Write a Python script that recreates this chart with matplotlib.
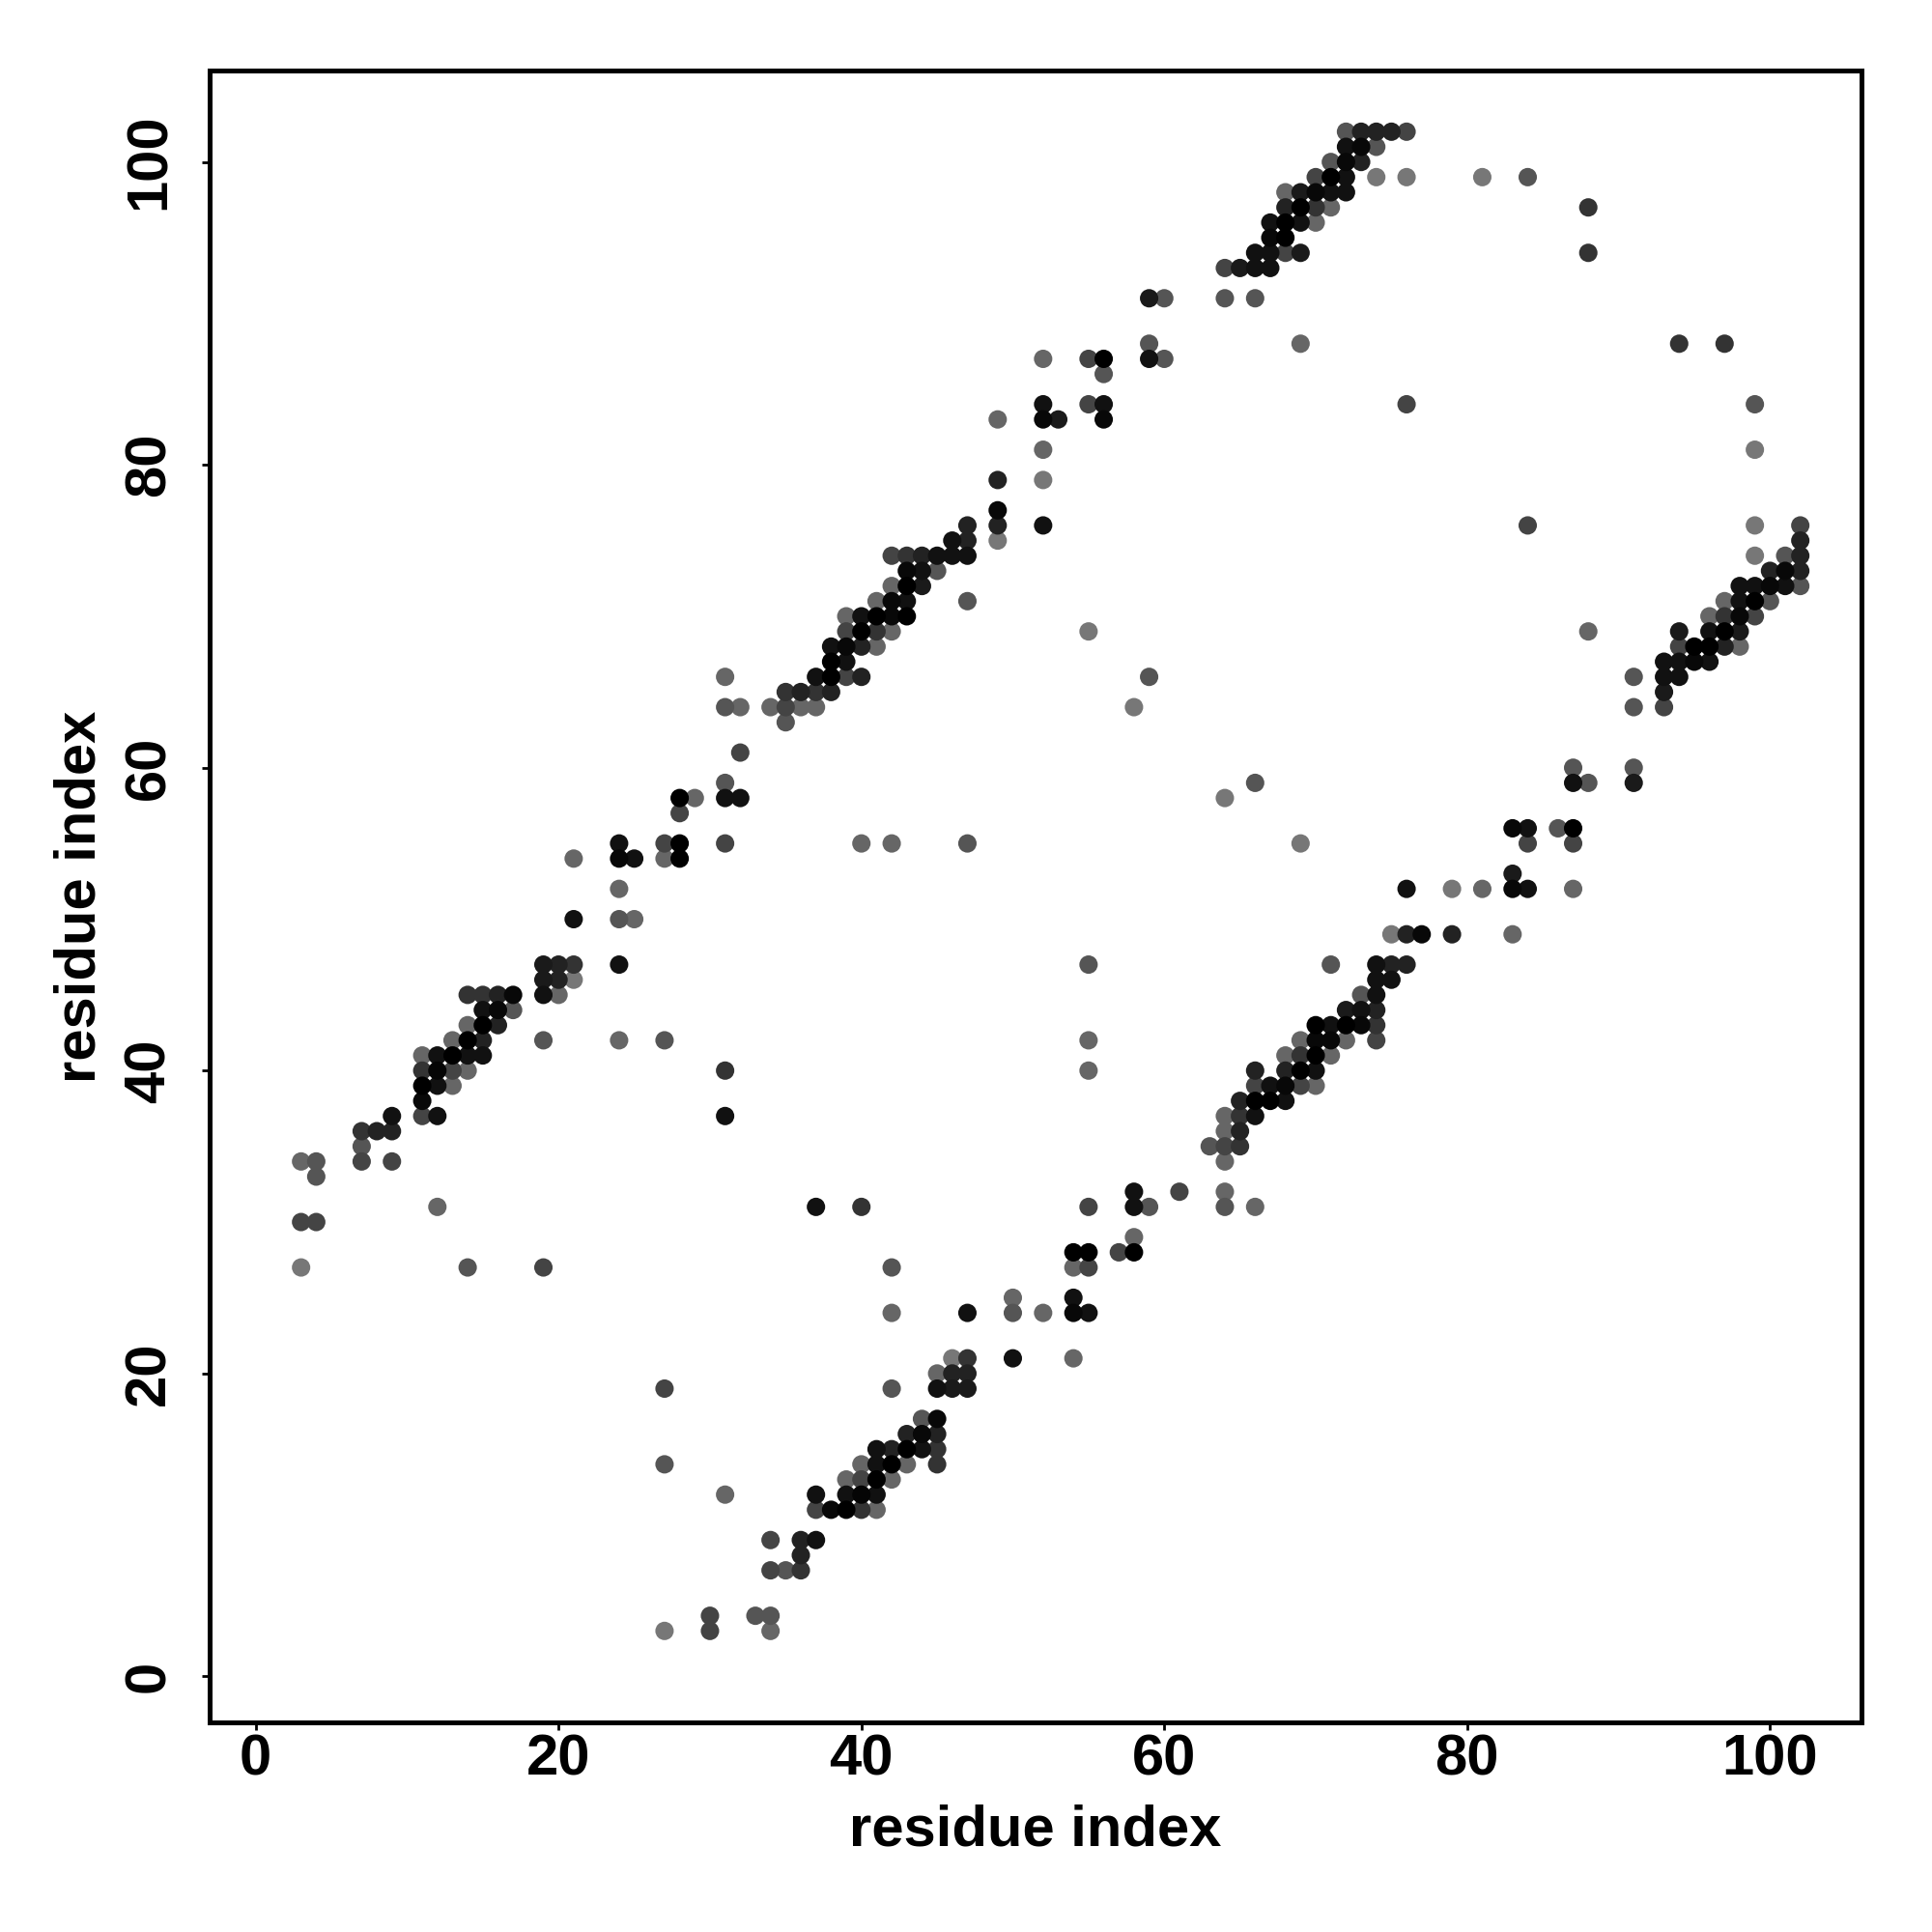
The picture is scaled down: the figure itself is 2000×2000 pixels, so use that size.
import matplotlib
matplotlib.use("Agg")
import matplotlib.pyplot as plt

# Contact map (upper triangle, i < j); the plot is symmetric, lower triangle mirrors it.
# grey level of each contact (0 = black, 255 = white)
contact_i = [
    3, 14, 19,
    3, 4,
    12,
    4,
    3, 4, 7, 9,
    7,
    7, 8, 9,
    9, 11, 12, 31,
    11,
    11, 12, 13,
    11, 12, 13, 14, 31,
    11, 12, 13, 14, 15,
    13, 14, 15, 19, 24, 27,
    14, 15, 16,
    15, 16, 17,
    14, 15, 16, 17, 19, 20,
    19, 20, 21,
    19, 20, 21, 24,
    21, 24, 25,
    24,
    21, 24, 25, 27, 28,
    24, 27, 28, 31, 40, 42, 47,
    28,
    28, 29, 31, 32,
    31,
    32,
    35,
    31, 32, 34, 35, 36, 37, 58,
    35, 36, 37, 38,
    31, 37, 38, 39, 40, 59,
    38, 39,
    38, 39, 40, 41,
    39, 40, 41, 42, 55,
    39, 40, 41, 42, 43,
    41, 42, 43, 47,
    42, 43, 44,
    43, 44, 45,
    42, 43, 44, 45, 46, 47,
    46, 47, 49,
    47, 49, 52,
    49,
    49, 52,
    52,
    49, 52, 53, 56,
    52, 55, 56, 76,
    56,
    52, 55, 56, 59, 60,
    59, 69,
    59, 60, 64, 66,
    64, 65, 66, 67,
    66, 67, 68, 69, 88,
    67, 68,
    67, 68, 69, 70,
    68, 69, 70, 71, 88,
    68, 69, 70, 71, 72,
    70, 71, 72, 74, 76, 81, 84,
    71, 72, 73,
    72, 73, 74,
    72, 73, 74, 75, 76,
]
contact_j = [
    27, 27, 27,
    30, 30,
    31,
    33,
    34, 34, 34, 34,
    35,
    36, 36, 36,
    37, 37, 37, 37,
    38,
    39, 39, 39,
    40, 40, 40, 40, 40,
    41, 41, 41, 41, 41,
    42, 42, 42, 42, 42, 42,
    43, 43, 43,
    44, 44, 44,
    45, 45, 45, 45, 45, 45,
    46, 46, 46,
    47, 47, 47, 47,
    50, 50, 50,
    52,
    54, 54, 54, 54, 54,
    55, 55, 55, 55, 55, 55, 55,
    57,
    58, 58, 58, 58,
    59,
    61,
    63,
    64, 64, 64, 64, 64, 64, 64,
    65, 65, 65, 65,
    66, 66, 66, 66, 66, 66,
    67, 67,
    68, 68, 68, 68,
    69, 69, 69, 69, 69,
    70, 70, 70, 70, 70,
    71, 71, 71, 71,
    72, 72, 72,
    73, 73, 73,
    74, 74, 74, 74, 74, 74,
    75, 75, 75,
    76, 76, 76,
    77,
    79, 79,
    81,
    83, 83, 83, 83,
    84, 84, 84, 84,
    86,
    87, 87, 87, 87, 87,
    88, 88,
    91, 91, 91, 91,
    93, 93, 93, 93,
    94, 94, 94, 94, 94,
    95, 95,
    96, 96, 96, 96,
    97, 97, 97, 97, 97,
    98, 98, 98, 98, 98,
    99, 99, 99, 99, 99, 99, 99,
    100, 100, 100,
    101, 101, 101,
    102, 102, 102, 102, 102,
]
contact_grey = [
    119, 85, 68,
    68, 68,
    102,
    85,
    102, 85, 68, 68,
    85,
    51, 34, 34,
    17, 68, 17, 17,
    8,
    0, 17, 102,
    51, 5, 68, 102, 51,
    102, 17, 0, 17, 17,
    102, 0, 34, 85, 102, 85,
    102, 0, 34,
    17, 8, 85,
    51, 51, 34, 8, 17, 102,
    26, 34, 119,
    26, 34, 51, 17,
    17, 85, 102,
    102,
    102, 8, 17, 102, 0,
    17, 68, 0, 68, 102, 102, 85,
    68,
    0, 102, 17, 17,
    85,
    68,
    85,
    85, 102, 102, 68, 102, 102, 119,
    51, 34, 51, 34,
    102, 17, 0, 68, 34, 85,
    0, 17,
    17, 8, 34, 102,
    68, 0, 51, 102, 119,
    102, 17, 0, 8, 0,
    102, 8, 17, 85,
    102, 0, 26,
    8, 17, 85,
    68, 51, 34, 17, 17, 17,
    17, 34, 119,
    34, 34, 17,
    8,
    34, 119,
    102,
    102, 8, 26, 8,
    17, 68, 17, 68,
    85,
    102, 68, 0, 17, 85,
    85, 102,
    26, 85, 85, 85,
    68, 26, 17, 17,
    17, 17, 68, 26, 51,
    8, 0,
    17, 0, 17, 102,
    34, 0, 51, 102, 51,
    102, 26, 8, 17, 17,
    68, 0, 17, 119, 119, 119, 85,
    85, 8, 34,
    17, 8, 85,
    85, 34, 34, 34, 68,
]

x_ticks = [0, 20, 40, 60, 80, 100]
y_ticks = [0, 20, 40, 60, 80, 100]
x_label = "residue index"
y_label = "residue index"

plt.rcParams['font.family'] = ['Liberation Sans', 'DejaVu Sans']
plt.rcParams['font.weight'] = 'bold'

fig = plt.figure(figsize=(10, 10), dpi=200)
ax = fig.add_axes([0.1085, 0.1085, 0.855, 0.855])

# sort lighter first so darker contacts sit on top
order = sorted(range(len(contact_i)), key=lambda k: -contact_grey[k])
xs, ys, cs = [], [], []
for k in order:
    g = contact_grey[k] / 255.0
    xs += [contact_i[k], contact_j[k]]
    ys += [contact_j[k], contact_i[k]]
    cs += [(g, g, g), (g, g, g)]
ax.scatter(xs, ys, s=47, c=cs, linewidths=0, zorder=3)

ax.set_xlim(-3.04, 106.04)
ax.set_ylim(-3.04, 106.04)
ax.set_xticks(x_ticks)
ax.set_yticks(y_ticks)
ax.set_xticklabels([str(t) for t in x_ticks], fontsize=21.5, fontweight='bold')
ax.set_yticklabels([str(t) for t in y_ticks], fontsize=21.5, fontweight='bold',
                   rotation=90, va='center')
ax.tick_params(axis='both', direction='out', length=3, width=1.0, color='black')
ax.tick_params(axis='x', pad=1)
ax.tick_params(axis='y', pad=9.4)
for sp in ax.spines.values():
    sp.set_linewidth(1.8)
    sp.set_color('black')

ax.set_xlabel(x_label, fontsize=21.5, fontweight='bold', labelpad=6.5)
ax.set_ylabel(y_label, fontsize=21.5, fontweight='bold', labelpad=6)

fig.savefig("out.png", dpi=200, facecolor='white')
